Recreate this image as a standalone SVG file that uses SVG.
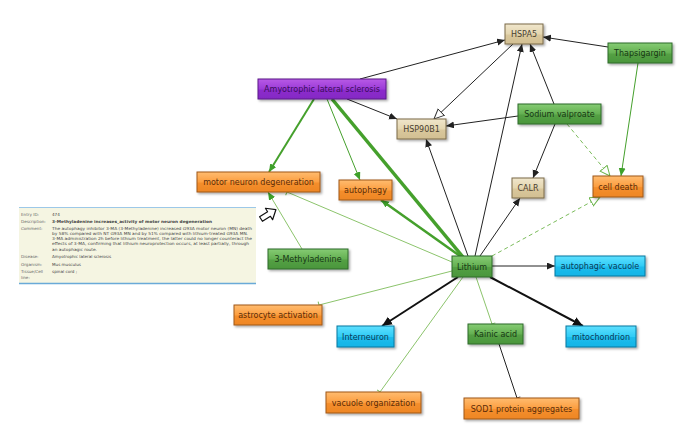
<svg xmlns="http://www.w3.org/2000/svg" width="685" height="441" viewBox="0 0 685 441">
<style>
.n text{font-family:"DejaVu Sans",sans-serif;font-size:8px;text-anchor:middle}
.tan rect{fill:url(#gTan);stroke:#7a6a48}
.tan text{fill:#4a4030}
.grn rect{fill:url(#gGrn);stroke:#2e6a28}
.grn text{fill:#173814}
.org rect{fill:url(#gOrg);stroke:#a05818}
.org text{fill:#5a2c08}
.blu rect{fill:url(#gBlu);stroke:#0a78a0}
.blu text{fill:#0a3a58}
.pur rect{fill:url(#gPur);stroke:#5a1888}
.pur text{fill:#3a0c5a}
.n rect{stroke-width:1;filter:url(#sh)}
.e path{fill:none}
.k{stroke:#222;stroke-width:1}
.kt{stroke:#111;stroke-width:2}
.g{stroke:#45a02c}
.lg{stroke:#8cc46c;stroke-width:1}
.dash{stroke:#7cbc5c;stroke-width:1;stroke-dasharray:4,3}
.info text{font-family:"DejaVu Sans",sans-serif;font-size:4.1px;fill:#444}
.info .lab{fill:#666}
</style>
<defs>
<filter id="sh" x="-20%" y="-30%" width="140%" height="170%"><feDropShadow dx="1.5" dy="1.5" stdDeviation="1" flood-color="#000" flood-opacity="0.35"/></filter>
<linearGradient id="gTan" x1="0" y1="0" x2="0" y2="1"><stop offset="0" stop-color="#f0e6cc"/><stop offset="0.5" stop-color="#e4d6b0"/><stop offset="0.55" stop-color="#d9c79c"/><stop offset="1" stop-color="#d2bf92"/></linearGradient>
<linearGradient id="gGrn" x1="0" y1="0" x2="0" y2="1"><stop offset="0" stop-color="#86cc74"/><stop offset="0.5" stop-color="#64b052"/><stop offset="0.55" stop-color="#54a044"/><stop offset="1" stop-color="#4a963c"/></linearGradient>
<linearGradient id="gOrg" x1="0" y1="0" x2="0" y2="1"><stop offset="0" stop-color="#ffbc70"/><stop offset="0.5" stop-color="#fc9e40"/><stop offset="0.55" stop-color="#f48e2c"/><stop offset="1" stop-color="#ee8624"/></linearGradient>
<linearGradient id="gBlu" x1="0" y1="0" x2="0" y2="1"><stop offset="0" stop-color="#5ee0ff"/><stop offset="0.5" stop-color="#30ccf6"/><stop offset="0.55" stop-color="#1cbcec"/><stop offset="1" stop-color="#16b4e6"/></linearGradient>
<linearGradient id="gPur" x1="0" y1="0" x2="0" y2="1"><stop offset="0" stop-color="#b85ae6"/><stop offset="0.5" stop-color="#9c3cd8"/><stop offset="0.55" stop-color="#8c2ccc"/><stop offset="1" stop-color="#8428c4"/></linearGradient>
<marker id="aK" markerUnits="userSpaceOnUse" markerWidth="9" markerHeight="8" refX="8" refY="3.5" orient="auto"><path d="M0,0 L8,3.5 L0,7 z" fill="#222"/></marker>
<marker id="aKL" markerUnits="userSpaceOnUse" markerWidth="11" markerHeight="10" refX="10" refY="4.5" orient="auto"><path d="M0,0 L10,4.5 L0,9 z" fill="#111"/></marker>
<marker id="aG" markerUnits="userSpaceOnUse" markerWidth="9" markerHeight="8" refX="8" refY="3.5" orient="auto"><path d="M0,0 L8,3.5 L0,7 z" fill="#3ea02a"/></marker>
<marker id="hK" markerUnits="userSpaceOnUse" markerWidth="12" markerHeight="11" refX="10.5" refY="5" orient="auto"><path d="M0.5,0.5 L10.5,5 L0.5,9.5 z" fill="#fff" stroke="#333" stroke-width="1"/></marker>
<marker id="hG" markerUnits="userSpaceOnUse" markerWidth="12" markerHeight="11" refX="10.5" refY="5" orient="auto"><path d="M0.5,0.5 L10.5,5 L0.5,9.5 z" fill="#fff" stroke="#6ab44a" stroke-width="1"/></marker>
<marker id="tG" markerUnits="userSpaceOnUse" markerWidth="3" markerHeight="8" refX="1.5" refY="4" orient="auto"><path d="M1.5,0.5 L1.5,7.5" stroke="#7cbc5c" stroke-width="1"/></marker>
<marker id="tK" markerUnits="userSpaceOnUse" markerWidth="3" markerHeight="8" refX="1.5" refY="4" orient="auto"><path d="M1.5,0.5 L1.5,7.5" stroke="#222" stroke-width="1"/></marker>
</defs>
<rect width="685" height="441" fill="#fff"/>

<g id="info" class="info">
<rect x="19" y="207" width="237" height="77" fill="#f5f5e2"/>
<path d="M19,207.5 H256" stroke="#9cc8e8" stroke-width="1"/>
<path d="M19,283.5 H256" stroke="#6aaad8" stroke-width="1.5"/>
<text class="lab" x="21" y="216">Entry ID:</text><text x="52" y="216">474</text>
<text class="lab" x="21" y="223">Description:</text><text x="52" y="223" font-weight="bold" fill="#222" textLength="160" lengthAdjust="spacingAndGlyphs">3-Methyladenine increases_activity of motor neuron degeneration</text>
<text class="lab" x="21" y="230">Comment:</text>
<text x="52" y="230" textLength="200" lengthAdjust="spacingAndGlyphs">The autophagy inhibitor 3-MA (3-Methyladenine) increased G93A motor neuron (MN) death</text>
<text x="52" y="235" textLength="196" lengthAdjust="spacingAndGlyphs">by 58% compared with NT G93A MN and by 51% compared with lithium-treated G93A MN.</text>
<text x="52" y="240" textLength="200" lengthAdjust="spacingAndGlyphs">3-MA administration 2h before lithium treatment, the latter could no longer counteract the</text>
<text x="52" y="245" textLength="197" lengthAdjust="spacingAndGlyphs">effects of 3-MA, confirming that lithium neuroprotection occurs, at least partially, through</text>
<text x="52" y="250.5" textLength="45" lengthAdjust="spacingAndGlyphs">an autophagic route.</text>
<text class="lab" x="21" y="258">Disease:</text><text x="52" y="258">Amyotrophic lateral sclerosis</text>
<text class="lab" x="21" y="266">Organism:</text><text x="52" y="266">Mus musculus</text>
<text class="lab" x="21" y="273">Tissue/Cell</text><text x="52" y="273">spinal cord ;</text>
<text class="lab" x="21" y="279">line:</text>
</g>

<path id="cursor" d="M0,-2 L7,-2 L7,-5 L13,0 L7,5 L7,2 L0,2 z" transform="translate(261,219) rotate(-32) scale(1.35)" fill="#fff" stroke="#111" stroke-width="0.9" stroke-linejoin="round"/>

<g id="connectors" class="e">
<path class="k" d="M360,79 L505,40" marker-end="url(#aK)"/>
<path class="k" d="M347,99 L397,119" marker-end="url(#aK)"/>
<path class="k" d="M513,44 L434,119" marker-end="url(#hK)"/>
<path class="k" d="M608,47 L543,37" marker-end="url(#aK)"/>
<path class="k" d="M554,104 L530,44" marker-end="url(#aK)"/>
<path class="k" d="M518,116 L446,126" marker-end="url(#aK)"/>
<path class="k" d="M555,124 L533,178" marker-end="url(#aK)"/>
<path class="dash" d="M567,124 L610,176" marker-end="url(#hG)"/>
<path class="g" stroke-width="1" d="M638,63 L621,176" marker-end="url(#aG)"/>
<path class="dash" d="M492,256 L600,197" marker-end="url(#hG)"/>
<path class="k" d="M475,256 L522,44" marker-end="url(#aK)"/>
<path class="k" d="M468,256 L426,139" marker-end="url(#aK)"/>
<path class="k" d="M480,256 L520,198" marker-end="url(#aK)"/>
<path class="k" d="M492,266 L555,266" marker-end="url(#aK)"/>
<path class="kt" d="M458,277 L382,326" marker-end="url(#aKL)"/>
<path class="kt" d="M490,277 L583,326" marker-end="url(#aKL)"/>
<path class="lg" d="M476,277 L492,324" marker-end="url(#tG)"/>
<path class="lg" d="M463,277 L380,392" marker-end="url(#tG)"/>
<path class="lg" d="M452,271 L319,305" marker-end="url(#tG)"/>
<path class="lg" d="M452,262 L287,192" marker-end="url(#tG)"/>
<path class="g" stroke-width="2.5" d="M460,256 L381,200" marker-end="url(#aG)"/>
<path class="g" stroke-width="3.5" stroke="#4cab34" d="M332,99 L463,257"/>
<path class="g" stroke-width="1" d="M327,99 L360,180" marker-end="url(#aG)"/>
<path class="g" stroke-width="2" d="M314,99 L269,172" marker-end="url(#aG)"/>
<path class="lg" stroke-width="1.2" d="M302,249 L268,192" marker-end="url(#aG)"/>
<path class="k" d="M499,344 L517,398" marker-end="url(#tK)"/>
</g>

<g id="HSPA5" class="n tan"><rect x="505" y="24" width="38" height="20"/><text x="524" y="37">HSPA5</text></g>
<g id="Thapsigargin" class="n grn"><rect x="608" y="43" width="64" height="20"/><text x="640" y="56">Thapsigargin</text></g>
<g id="ALS" class="n pur"><rect x="258" y="79" width="128" height="20"/><text x="322" y="92">Amyotrophic lateral sclerosis</text></g>
<g id="SodiumValproate" class="n grn"><rect x="518" y="104" width="83" height="20"/><text x="559.5" y="117">Sodium valproate</text></g>
<g id="HSP90B1" class="n tan"><rect x="397" y="119" width="49" height="20"/><text x="421.5" y="132">HSP90B1</text></g>
<g id="MND" class="n org"><rect x="197" y="172" width="123" height="20"/><text x="258.5" y="185">motor neuron degeneration</text></g>
<g id="autophagy" class="n org"><rect x="339" y="180" width="53" height="20"/><text x="365.5" y="193">autophagy</text></g>
<g id="CALR" class="n tan"><rect x="512" y="178" width="32" height="20"/><text x="528" y="191">CALR</text></g>
<g id="cellDeath" class="n org"><rect x="593" y="176" width="50" height="21"/><text x="618" y="189.5">cell death</text></g>
<g id="MA3" class="n grn"><rect x="268" y="249" width="80" height="20"/><text x="308" y="262">3-Methyladenine</text></g>
<g id="Lithium" class="n grn"><rect x="452" y="256" width="40" height="21"/><text x="472" y="269.5">Lithium</text></g>
<g id="autophagicVacuole" class="n blu"><rect x="555" y="256" width="90" height="20"/><text x="600" y="269">autophagic vacuole</text></g>
<g id="astrocyte" class="n org"><rect x="234" y="305" width="88" height="20"/><text x="278" y="318">astrocyte activation</text></g>
<g id="Interneuron" class="n blu"><rect x="337" y="326" width="57" height="21"/><text x="365.5" y="339.5">Interneuron</text></g>
<g id="KainicAcid" class="n grn"><rect x="468" y="324" width="55" height="20"/><text x="495.5" y="336.5">Kainic acid</text></g>
<g id="mitochondrion" class="n blu"><rect x="566" y="326" width="70" height="21"/><text x="601" y="339.5">mitochondrion</text></g>
<g id="vacuoleOrg" class="n org"><rect x="326" y="392" width="95" height="21"/><text x="373.5" y="405.5">vacuole organization</text></g>
<g id="SOD1" class="n org"><rect x="464" y="398" width="115" height="21"/><text x="521.5" y="411.5">SOD1 protein aggregates</text></g>
</svg>
